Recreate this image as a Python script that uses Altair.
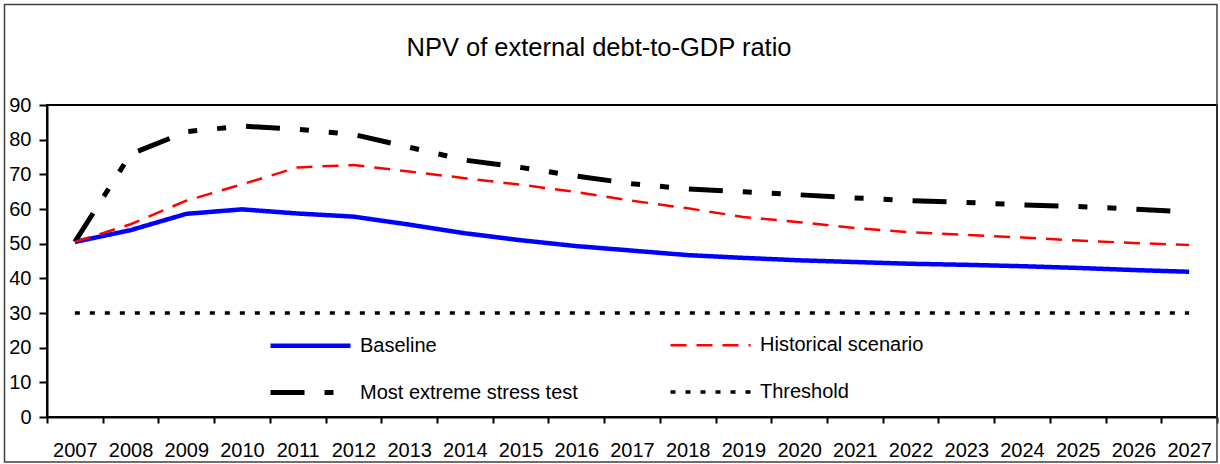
import altair as alt
import pandas as pd

# Tick labels (years) and the four series, in %
years = ["2007", "2008", "2009", "2010", "2011", "2012", "2013", "2014", "2015", "2016", "2017",
         "2018", "2019", "2020", "2021", "2022", "2023", "2024", "2025", "2026", "2027"]
baseline = [50.5, 53.9, 58.6, 59.9, 58.7, 57.8, 55.5, 53.0, 51.0, 49.3, 48.0,
            46.7, 45.9, 45.2, 44.7, 44.2, 43.9, 43.5, 43.0, 42.4, 41.9]
historical = [50.5, 55.6, 62.4, 67.1, 72.0, 72.7, 70.8, 68.9, 67.0, 64.9, 62.4,
              60.2, 57.7, 56.2, 54.5, 53.3, 52.5, 51.8, 50.9, 50.2, 49.6]
stress = [50.5, 75.8, 82.3, 83.9, 83.0, 81.5, 77.8, 74.1, 72.0, 69.5, 67.3,
          65.8, 65.0, 64.1, 63.2, 62.4, 61.9, 61.2, 60.7, 60.0, 59.1]
threshold = [30, 30, 30, 30, 30, 30, 30, 30, 30, 30, 30,
             30, 30, 30, 30, 30, 30, 30, 30, 30, 30]

# Legend entries fill column by column: Baseline / stress test, then historical / threshold
series_names = ["Baseline", "Most extreme stress test", "Historical scenario", "Threshold"]
series_values = [baseline, stress, historical, threshold]
series_colors = ["#0000ff", "#000000", "#ff0000", "#000000"]
series_dashes = [[1, 0], [34, 20, 9, 20, 9, 20], [16, 10], [5, 10]]
series_widths = [4.5, 5, 2.5, 3.5]

rows = []
for name, vals in zip(series_names, series_values):
    for yr, v in zip(years, vals):
        rows.append({"year": yr, "value": v, "series": name})
df = pd.DataFrame(rows)

FONT = "Liberation Sans"
PLOT_W, PLOT_H = 1170, 312

legend = alt.Legend(
    title=None,
    orient="none",
    legendX=251,
    legendY=228,
    columns=2,
    columnPadding=85,
    rowPadding=24,
    padding=0,
    symbolType="M-4,0H4",
    symbolSize=400,
    labelOffset=37,
    labelFont=FONT,
    labelFontSize=20,
    labelColor="black",
    labelLimit=400,
)

lines = alt.Chart(df).mark_line(interpolate="linear", clip=False).encode(
    x=alt.X(
        "year:N",
        sort=years,
        bandPosition=0.5,
        scale=alt.Scale(type="band", paddingInner=0, paddingOuter=0),
        axis=alt.Axis(
            title=None,
            labelAngle=0,
            labelFont=FONT,
            labelFontSize=20,
            labelColor="black",
            labelPadding=17,
            tickBand="extent",
            tickSize=6,
            tickWidth=2,
            tickColor="black",
            domainColor="black",
            domainWidth=2,
            grid=False,
        ),
    ),
    y=alt.Y(
        "value:Q",
        scale=alt.Scale(domain=[0, 90], nice=False),
        axis=alt.Axis(
            title=None,
            values=[0, 10, 20, 30, 40, 50, 60, 70, 80, 90],
            labelFont=FONT,
            labelFontSize=20,
            labelColor="black",
            labelPadding=8,
            tickSize=8,
            tickWidth=2,
            tickColor="black",
            domainColor="black",
            domainWidth=2,
            grid=False,
        ),
    ),
    color=alt.Color(
        "series:N",
        scale=alt.Scale(domain=series_names, range=series_colors),
        legend=legend,
    ),
    strokeDash=alt.StrokeDash(
        "series:N",
        scale=alt.Scale(domain=series_names, range=series_dashes),
        legend=legend,
    ),
    strokeWidth=alt.StrokeWidth(
        "series:N",
        scale=alt.Scale(type="ordinal", domain=series_names, range=series_widths),
        legend=legend,
    ),
)

one_row = alt.Data(values=[{"k": 0}])

# Black border of the plot area
plot_border = alt.Chart(one_row).mark_rect(
    fill=None, stroke="black", strokeWidth=2, clip=False
).encode(
    x=alt.value(0), x2=alt.value(PLOT_W), y=alt.value(0), y2=alt.value(PLOT_H)
)

# Outer frame around the whole figure
frame = alt.Chart(one_row).mark_rect(
    fill=None, stroke="#404040", strokeWidth=1.5, clip=False
).encode(
    x=alt.value(-42.5), x2=alt.value(PLOT_W), y=alt.value(-100.5), y2=alt.value(357)
)

chart = alt.layer(plot_border, lines, frame).properties(
    width=PLOT_W,
    height=PLOT_H,
    background="white",
    autosize=alt.AutoSizeParams(type="none"),
    padding={"left": 47, "top": 105, "right": 3, "bottom": 47},
    title=alt.Title(
        "NPV of external debt-to-GDP ratio",
        font=FONT,
        fontSize=25.5,
        fontWeight="normal",
        color="black",
        anchor="middle",
        baseline="alphabetic",
        offset=-78,
        dx=-33,
    ),
).configure_view(
    stroke="black", strokeWidth=2
)

chart.save("out.html", embed_options={"renderer": "svg", "actions": False})
